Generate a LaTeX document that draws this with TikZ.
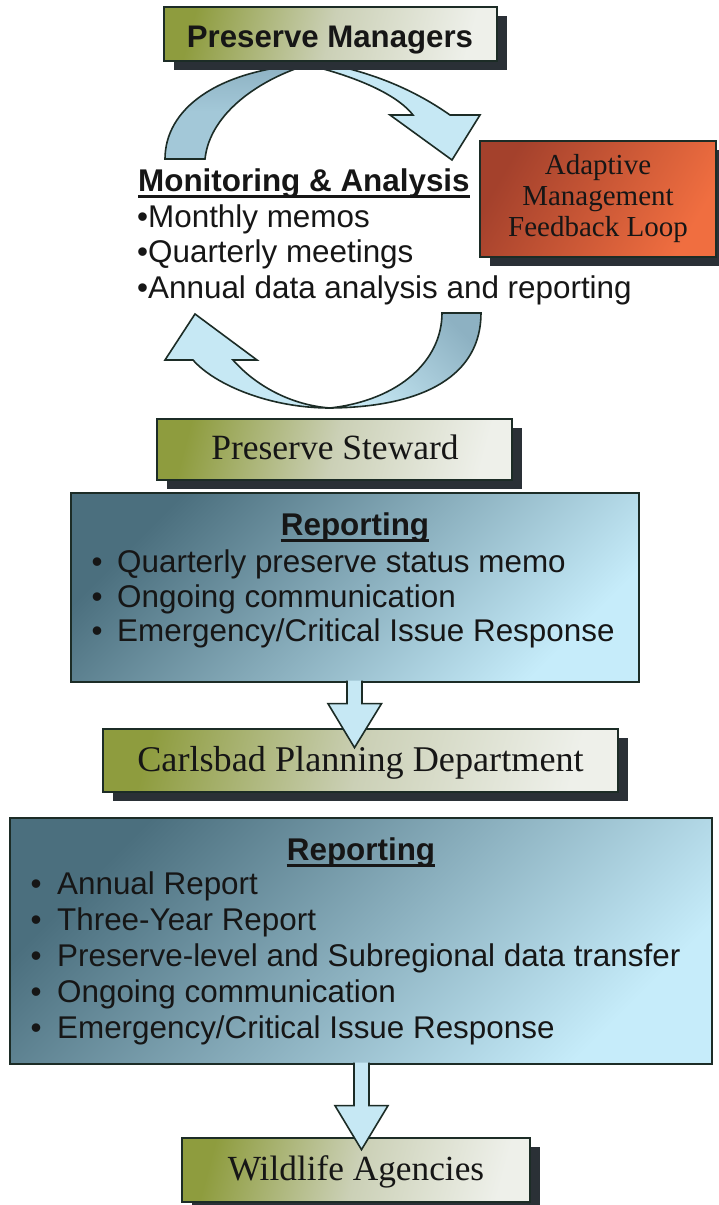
\documentclass[tikz,border=0pt]{standalone}
\usepackage{fontspec}
\setmainfont{Liberation Serif}
\newfontfamily\arialf{Liberation Sans}
\usetikzlibrary{shadows,calc}
\definecolor{olivedk}{HTML}{8E9C3E}
\definecolor{olivemd}{HTML}{CBD0B6}
\definecolor{olivelt}{HTML}{EEF0EA}
\definecolor{repdk}{HTML}{4B6F7E}
\definecolor{replt}{HTML}{C6ECFA}
\definecolor{orgdk}{HTML}{A4412C}
\definecolor{orglt}{HTML}{F06E40}
\definecolor{arrowlt}{HTML}{C6E8F4}
\definecolor{arrowdk}{HTML}{8DB1C2}
\definecolor{arrowmd}{HTML}{A3C8D8}
\definecolor{edgec}{HTML}{1C2C26}
\definecolor{shadowc}{HTML}{2A3036}
\definecolor{textc}{HTML}{161616}
\tikzset{
  boxshadow/.style={drop shadow={shadow xshift=10pt,shadow yshift=-9pt,fill=shadowc,opacity=1}},
  olivebox/.style={boxshadow,draw=edgec,line width=1.3pt,top color=olivedk,bottom color=olivelt,middle color=olivemd,shading angle=75,inner sep=0pt},
  repbox/.style={draw=edgec,line width=1.3pt,top color=repdk,bottom color=replt,shading angle=45,inner sep=0pt},
  orgbox/.style={boxshadow,draw=edgec,line width=1.3pt,top color=orgdk,bottom color=orglt,shading angle=60,inner sep=0pt,align=center,text=textc,font={\fontsize{29}{31}\selectfont}},
  bandfront/.style={draw=edgec,line width=1.6pt,fill=arrowlt,line join=miter},
  bandback/.style={draw=edgec,line width=1.6pt},
  blockarrow/.style={draw=edgec,line width=1.6pt,fill=arrowlt,line join=miter},
  serifhead/.style={anchor=base,inner sep=0pt,text=textc},
  sfhead/.style={anchor=base,inner sep=0pt,text=textc,font={\arialf\bfseries\fontsize{31.4}{36}\selectfont}},
  sfitem/.style={anchor=base west,inner sep=0pt,text=textc,font={\arialf\fontsize{31.4}{36}\selectfont}},
  uline/.style={line width=2.6pt,draw=textc},
}
\begin{document}
\begin{tikzpicture}[x=1pt,y=-1pt]
\useasboundingbox (0,0) rectangle (719,1205);
\fill[white] (0,0) rectangle (719,1205);
% curved arrow at the top (under the Preserve Managers box)
\path[bandback,top color=arrowdk,bottom color=arrowmd,middle color=arrowmd]
  (165,159) .. controls (165,110) and (215,70) .. (310,64)
  .. controls (262,78) and (210,112) .. (205,159) -- cycle;
\path[bandfront]
  (305,60) .. controls (375,70) and (420,94) .. (450,115)
  -- (480,115) -- (452,160) -- (390,115) -- (413,115)
  .. controls (400,98) and (365,78) .. (300,63) -- cycle;
% curved arrow at the bottom
\path[bandback,top color=arrowdk,bottom color=arrowlt,shading angle=-45]
  (442,313) -- (481,313) .. controls (481,375) and (425,407) .. (330,408)
  .. controls (400,400) and (442,360) .. (442,313) -- cycle;
\path[bandfront]
  (330,408) .. controls (270,408) and (215,385) .. (193,360)
  -- (165,360) -- (195,314) -- (257,360) -- (233,360)
  .. controls (255,385) and (290,405) .. (330,408) -- cycle;
% boxes
\node[olivebox,minimum width=333pt,minimum height=54pt] (pm) at (330.5,34) {};
\node[orgbox,minimum width=236pt,minimum height=116pt] (aml) at (598,199) {Adaptive\\Management\\Feedback Loop};
\node[olivebox,minimum width=355pt,minimum height=61pt] (ps) at (334.5,449.5) {};
\node[repbox,minimum width=568pt,minimum height=189pt] (rep1) at (355,587.5) {};
\node[olivebox,minimum width=515pt,minimum height=63pt] (cpd) at (360.5,760.5) {};
\node[repbox,minimum width=702pt,minimum height=246pt] (rep2) at (361,941) {};
\node[olivebox,minimum width=348pt,minimum height=64pt] (wa) at (356,1170) {};
% box labels
\node[sfhead,font={\arialf\bfseries\fontsize{31.2}{36}\selectfont}] (pmt) at (330,47) {Preserve Managers};
\node[serifhead,font={\fontsize{35.5}{40}\selectfont}] (pst) at (335,459) {Preserve Steward};
\node[serifhead,font={\fontsize{36.2}{40}\selectfont}] (cpdt) at (360.5,771) {Carlsbad Planning Department};
\node[serifhead,font={\fontsize{35.3}{40}\selectfont}] (wat) at (356,1180) {Wildlife Agencies};
% monitoring & analysis
\node[sfhead,anchor=base west] (mon) at (138,191) {Monitoring \& Analysis};
\draw[uline] ([yshift=-5.5pt]mon.base west) -- ([yshift=-5.5pt]mon.base east);
\node[sfitem] (m1) at (137,227) {•Monthly memos};
\node[sfitem] (m2) at (137,262) {•Quarterly meetings};
\node[sfitem] (m3) at (137,298) {•Annual data analysis and reporting};
% reporting 1
\node[sfhead] (r1h) at (355,535) {Reporting};
\draw[uline] ([yshift=-5.5pt]r1h.base west) -- ([yshift=-5.5pt]r1h.base east);
\node[sfitem] (r1a) at (91.5,572) {\makebox[25.5pt][l]{•}Quarterly preserve status memo};
\node[sfitem] (r1b) at (91.5,607) {\makebox[25.5pt][l]{•}Ongoing communication};
\node[sfitem] (r1c) at (91.5,641) {\makebox[25.5pt][l]{•}Emergency/Critical Issue Response};
% reporting 2
\node[sfhead] (r2h) at (361,860) {Reporting};
\draw[uline] ([yshift=-5.5pt]r2h.base west) -- ([yshift=-5.5pt]r2h.base east);
\node[sfitem] (r2a) at (30.5,894) {\makebox[26.5pt][l]{•}Annual Report};
\node[sfitem] (r2b) at (30.5,930) {\makebox[26.5pt][l]{•}Three-Year Report};
\node[sfitem] (r2c) at (30.5,966) {\makebox[26.5pt][l]{•}Preserve-level and Subregional data transfer};
\node[sfitem] (r2d) at (30.5,1002) {\makebox[26.5pt][l]{•}Ongoing communication};
\node[sfitem] (r2e) at (30.5,1038) {\makebox[26.5pt][l]{•}Emergency/Critical Issue Response};
% block arrows between boxes
\coordinate (a1) at ($(rep1.south)+(-0.5,0)$);
\path[blockarrow] ($(a1)+(-7.5,-2)$) -- ($(a1)+(-7.5,21)$) -- ($(a1)+(-26.5,21)$)
  -- ($(a1)+(0,65)$) -- ($(a1)+(27,21)$) -- ($(a1)+(7.5,21)$) -- ($(a1)+(7.5,-2)$);
\coordinate (a2) at ($(rep2.south)+(0.5,0)$);
\path[blockarrow] ($(a2)+(-7.5,-2)$) -- ($(a2)+(-7.5,41)$) -- ($(a2)+(-26.5,41)$)
  -- ($(a2)+(0,85)$) -- ($(a2)+(26.5,41)$) -- ($(a2)+(7.5,41)$) -- ($(a2)+(7.5,-2)$);
\end{tikzpicture}
\end{document}
